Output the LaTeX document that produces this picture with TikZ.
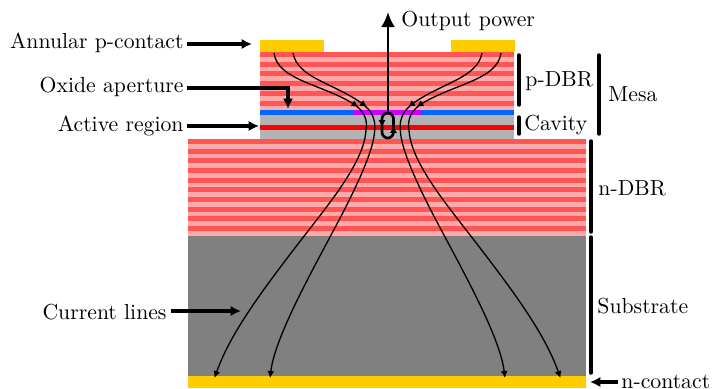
\documentclass[tikz,border=0pt]{standalone}
\usepackage{amsmath}
\usetikzlibrary{arrows.meta}
\definecolor{contactgold}{HTML}{FFCC00}
\definecolor{dbrdark}{HTML}{FF5555}
\definecolor{dbrlight}{HTML}{FFAAAA}
\definecolor{oxideblue}{HTML}{0066FF}
\definecolor{aperture}{HTML}{CC00FF}
\definecolor{cavitygray}{HTML}{B3B3B3}
\definecolor{subgray}{HTML}{808080}
\begin{document}
\begin{tikzpicture}[
  x=0.46pt, y=-0.46pt,
  lbl/.style={inner sep=0pt},
  ar/.style={line width=1.4pt, -{Latex[length=4.8pt,width=4.8pt]}},
  brk/.style={line width=1.6pt, line cap=round},
  tipar/.style={line width=0.6pt, -{Latex[length=3.2pt,width=3.2pt]}},
  looptip/.style={line width=1.2pt, -{Latex[length=3.2pt,width=3.4pt]}}
]
\useasboundingbox (0,0) rectangle (714,388);
%--- layer stack -------------------------------------------------------------
\fill[contactgold] (260,40) rectangle (324,52);
\fill[contactgold] (451,40) rectangle (515,52);
\fill[dbrlight] (260,52) rectangle (514,110);
\foreach \i in {0,...,5}
  \fill[dbrdark] (260,52+9.7*\i) rectangle (514,57+9.7*\i);
\fill[oxideblue] (260,110) rectangle (514,115);
\fill[aperture] (353,110) rectangle (422,115);
\fill[cavitygray] (260,115) rectangle (514,139);
\fill[red] (260,125) rectangle (514,130);
\fill[dbrlight] (188,139) rectangle (586,236);
\foreach \i in {0,...,9}
  \fill[dbrdark] (188,139+9.65*\i) rectangle (586,144+9.65*\i);
\fill[subgray] (188,236) rectangle (586,376);
\fill[contactgold] (188,376) rectangle (586,388);

%--- current lines -----------------------------------------------------------
\foreach \m in {1,-1}{
\begin{scope}[shift={(387.5,0)}, xscale=\m]
  \draw[tipar] (-113.5,53) .. controls (-110,80) and (-66,84) .. (-29,107);
  \draw[tipar] (-31,106) .. controls (-22,113) and (-20,122) .. (-21.5,130)
    .. controls (-23,160) and (-55,199.5) .. (-81,233)
    .. controls (-126,291) and (-157,333) .. (-173,378);
  \draw[tipar] (-94.5,53) .. controls (-90,78) and (-54,83) .. (-20.5,107);
  \draw[tipar] (-22.5,106) .. controls (-14,113) and (-12,122) .. (-12.8,130)
    .. controls (-13.5,155) and (-42.5,209) .. (-57.5,237)
    .. controls (-81.5,282) and (-113,340) .. (-117.5,378);
\end{scope}
}

%--- output power and carrier loop -------------------------------------------
\coordinate (looptop) at (388,113);
\coordinate (outtip) at (388,12);
\draw[line width=1.2pt, rounded corners=2.7pt] (382,113) rectangle (393.5,138);
\draw[looptip] (382,120) -- (382,127);
\draw[looptip] (393.5,133) -- (393.5,126);
\draw[line width=1.2pt, -{Latex[length=7pt,width=6.5pt]}] (looptop) -- (outtip);
\node[lbl, anchor=west] (outp) at (401,21) {Output power};

%--- left labels -------------------------------------------------------------
\node[lbl, anchor=east] (pcontact) at (184,43) {Annular p-contact};
\node[lbl, anchor=east] (oxide) at (184,87) {Oxide aperture};
\node[lbl, anchor=east] (active) at (184,126) {Active region};
\node[lbl, anchor=east] (curlab) at (167,312) {Current lines};
\coordinate (pcontactend) at (252,44);
\coordinate (oxideend) at (288,109);
\coordinate (activeend) at (259,126);
\coordinate (curend) at (241,311);
\draw[ar] (187,44) -- (pcontactend);
\draw[ar] (187,88) -| (oxideend);
\draw[ar] (187,126) -- (activeend);
\draw[ar] (171,311) -- (curend);

%--- right brackets ----------------------------------------------------------
\draw[brk] (519,55) -- (519,105);
\draw[brk] (519,117) -- (519,134);
\draw[brk] (599,55) -- (599,134);
\draw[brk] (591,141) -- (591,232);
\draw[brk] (591,237) -- (591,373);
\node[lbl, anchor=west] (pdbr) at (525,81) {p-DBR};
\node[lbl, anchor=west] (cavity) at (524,125) {Cavity};
\node[lbl, anchor=west] (mesa) at (608,94) {Mesa};
\node[lbl, anchor=west] (ndbr) at (598,188) {n-DBR};
\node[lbl, anchor=west] (subs) at (597,306) {Substrate};
\node[lbl, anchor=west] (ncontact) at (621,382) {n-contact};
\coordinate (ncontactend) at (590,382);
\draw[ar] (ncontact.west) ++(-3,0) -- (ncontactend);
\end{tikzpicture}
\end{document}
